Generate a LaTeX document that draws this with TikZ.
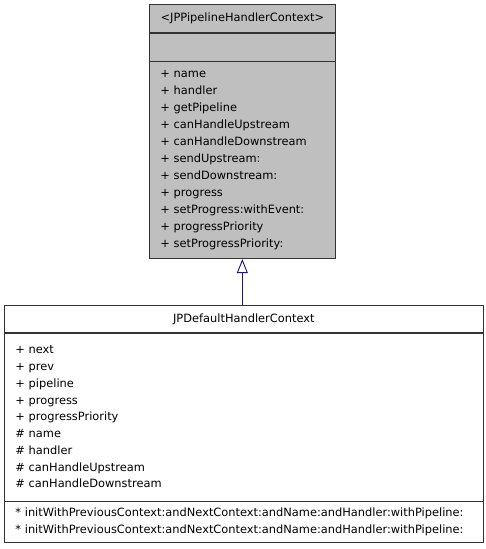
\documentclass[tikz,border=0pt]{standalone}
\usepackage{fontspec}
\setmainfont{DejaVu Sans}
\usetikzlibrary{arrows.meta}
\definecolor{ifacegray}{HTML}{BFBFBF}
\definecolor{edgeblue}{HTML}{191970}
\tikzset{
   part/.style={draw=black!80, line width=0.7pt, anchor=north west,
      inner xsep=11pt, inner ysep=0pt, align=left,
      font=\fontsize{11.4}{17}\selectfont},
   iface/.style={part, fill=ifacegray, minimum width=186pt, text width=164pt},
   klass/.style={part, fill=white, minimum width=479pt, text width=457pt},
}
\begin{document}
\begin{tikzpicture}[x=1pt,y=-1pt]
   \useasboundingbox (0,0) rectangle (485,549);
   \begin{scope}
      \node[iface, minimum height=28pt, align=center] (ititle) at (149,4)
         {<JPPipelineHandlerContext>};
      \node[iface, minimum height=28pt] (iattrs) at (ititle.south west) {};
      \node[iface, minimum height=197pt] (imethods) at (iattrs.south west) {
         + name\\
         + handler\\
         + getPipeline\\
         + canHandleUpstream\\
         + canHandleDownstream\\
         + sendUpstream:\\
         + sendDownstream:\\
         + progress\\
         + setProgress:withEvent:\\
         + progressPriority\\
         + setProgressPriority:};
   \end{scope}
   \begin{scope}
      \node[klass, minimum height=27pt, align=center] (ctitle) at (4,305)
         {JPDefaultHandlerContext};
      \node[klass, minimum height=168pt, font=\fontsize{11.4}{16.75}\selectfont]
         (cattrs) at (ctitle.south west) {
         + next\\
         + prev\\
         + pipeline\\
         + progress\\
         + progressPriority\\
         \# name\\
         \# handler\\
         \# canHandleUpstream\\
         \# canHandleDownstream};
      \node[klass, minimum height=41pt] (cmethods) at (cattrs.south west) {
         {*} initWithPreviousContext:andNextContext:andName:andHandler:withPipeline:\\
         {*} initWithPreviousContext:andNextContext:andName:andHandler:withPipeline:};
   \end{scope}
   \draw[edgeblue, line width=0.9pt, -{Triangle[open, length=14pt, width=11pt]}]
      (imethods.south |- ctitle.north) -- (imethods.south);
\end{tikzpicture}
\end{document}
